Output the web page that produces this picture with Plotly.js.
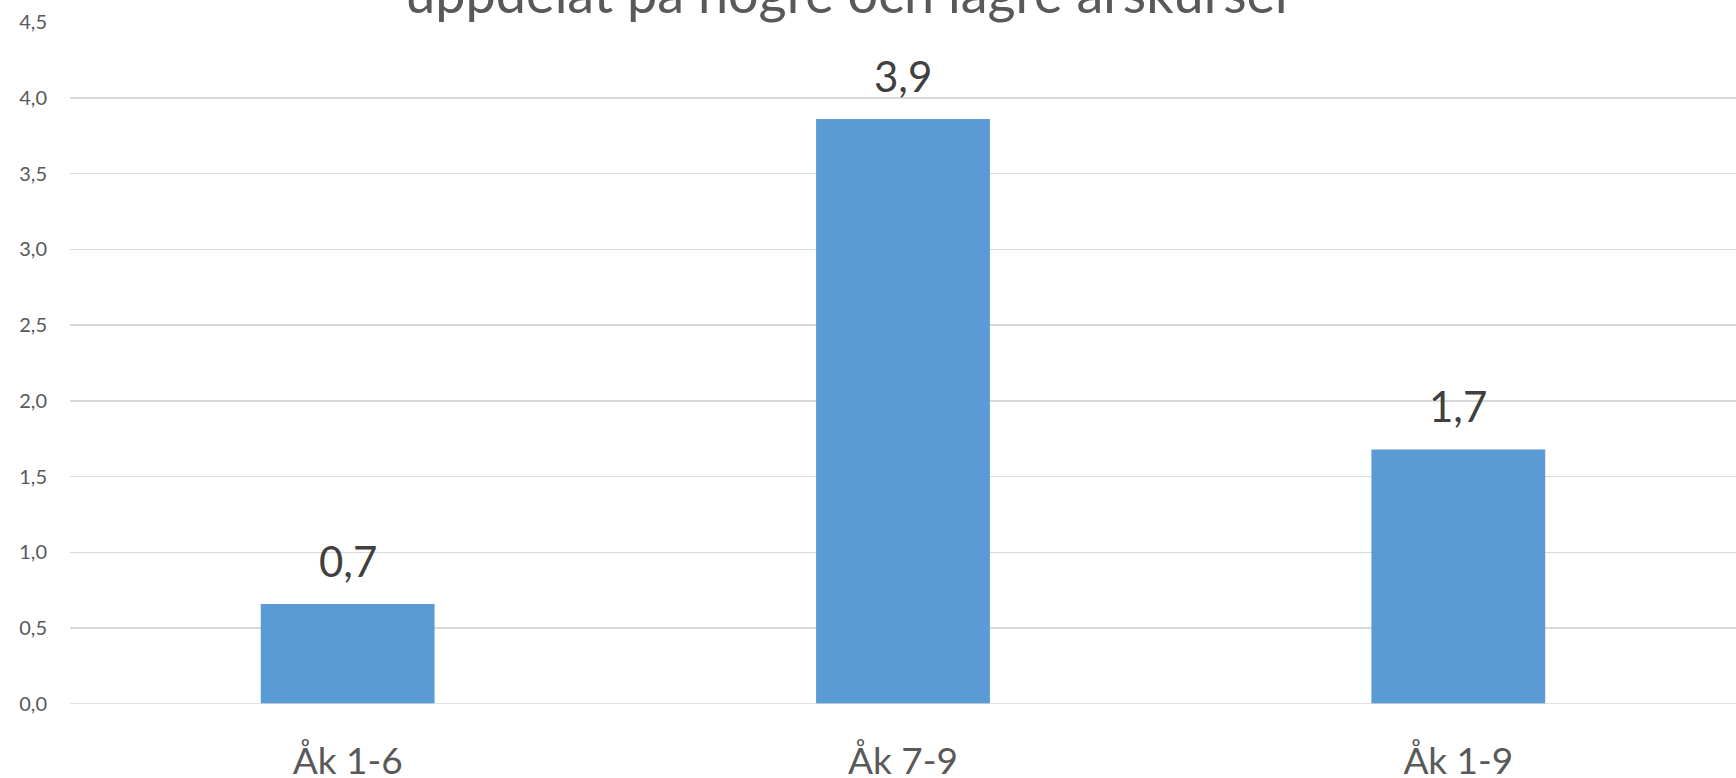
<!DOCTYPE html>
<html>
<head>
<meta charset="utf-8">
<script src="https://cdn.plot.ly/plotly-3.0.1.min.js"></script>
<style>html,body{margin:0;padding:0;background:#fff;}#chart{width:1736px;height:778px;}</style>
</head>
<body>
<div id="chart"></div>
<script>
const categories = ["Åk 1-6", "Åk 7-9", "Åk 1-9"];
const values = [0.66, 3.86, 1.68];
const tickValues = [0, 0.5, 1, 1.5, 2, 2.5, 3, 3.5, 4, 4.5];
const titleText = "uppdelat på högre och lägre årskurser";

const FONT = "Lato, 'Open Sans', sans-serif";

const trace = {
  type: "bar",
  x: categories,
  y: values,
  marker: {color: "#5B9BD5"},
  hoverinfo: "skip"
};

const annotations = categories.map((c, i) => ({
  x: c, y: values[i], xref: "x", yref: "y",
  text: values[i].toFixed(1).replace(".", ","),
  showarrow: false, yanchor: "bottom", yshift: 16,
  font: {family: FONT, size: 42, color: "#404040"}
}));

const layout = {
  width: 1736, height: 778,
  margin: {l: 70, r: 0, t: 22, b: 73.5, pad: 0},
  paper_bgcolor: "#ffffff", plot_bgcolor: "#ffffff",
  separators: ", ",
  bargap: 0.687,
  showlegend: false,
  title: {
    text: titleText,
    font: {family: FONT, size: 54, color: "#595959"},
    x: 850/1736, xanchor: "center",
    xref: "container", yref: "container",
    y: 1 - 13/778, yanchor: "bottom"
  },
  xaxis: {
    type: "category",
    showgrid: false, zeroline: false, showline: false,
    ticks: "", ticklen: 0, ticklabelstandoff: 32,
    tickfont: {family: FONT, size: 37, color: "#595959"},
    automargin: false
  },
  yaxis: {
    range: [0, 4.5],
    tickvals: tickValues,
    tickformat: ".1f",
    showgrid: true, gridcolor: "#D9D9D9", gridwidth: 1.5,
    zeroline: false, showline: false,
    ticks: "", ticklabelstandoff: 22,
    tickfont: {family: FONT, size: 20, color: "#595959"},
    automargin: false
  },
  shapes: [{
    type: "line", xref: "paper", yref: "y", x0: 0, x1: 1, y0: 0, y1: 0,
    line: {color: "#D9D9D9", width: 1.5}
  }],
  annotations: annotations
};

Plotly.newPlot("chart", [trace], layout, {displayModeBar: false, staticPlot: true});
</script>
</body>
</html>
